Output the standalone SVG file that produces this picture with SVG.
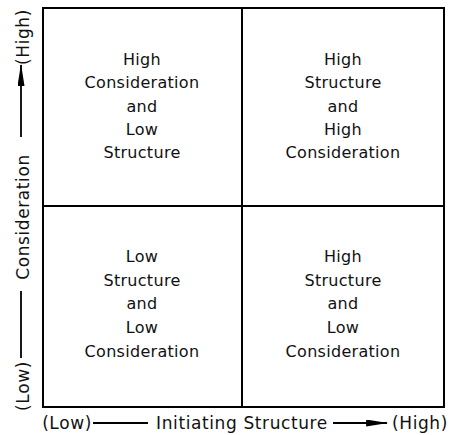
<svg xmlns="http://www.w3.org/2000/svg" width="451" height="435" viewBox="0 0 451 435">
  <style>
    .grid { fill: none; stroke: #000; stroke-width: 2; }
    .lbl { font-family: "DejaVu Sans", sans-serif; font-size: 16px; letter-spacing: 0.3px; fill: #111; text-anchor: middle; }
    .ax { font-family: "DejaVu Sans", sans-serif; font-size: 17px; letter-spacing: 0.6px; fill: #111; text-anchor: middle; }
    .axis { stroke: #000; stroke-width: 1.8; fill: none; }
  </style>
  <defs>
    <marker id="arrow" viewBox="0 0 10 10" refX="9.5" refY="5" markerWidth="22" markerHeight="7" markerUnits="userSpaceOnUse" orient="auto" preserveAspectRatio="none">
      <path d="M0,0 L10,5 L0,10 z" fill="#000"/>
    </marker>
  </defs>
  <rect x="0" y="0" width="451" height="435" fill="#fff"/>

  <!-- quadrant grid -->
  <g id="grid">
    <rect class="grid" x="43" y="8" width="401" height="399"/>
    <line class="grid" x1="242" y1="8" x2="242" y2="407"/>
    <line class="grid" x1="43" y1="206" x2="444" y2="206"/>
  </g>

  <g id="q-top-left">
    <text class="lbl" x="142" y="65">High</text>
    <text class="lbl" x="142" y="88">Consideration</text>
    <text class="lbl" x="142" y="112">and</text>
    <text class="lbl" x="142" y="135">Low</text>
    <text class="lbl" x="142" y="158">Structure</text>
  </g>
  <g id="q-top-right">
    <text class="lbl" x="343" y="65">High</text>
    <text class="lbl" x="343" y="88">Structure</text>
    <text class="lbl" x="343" y="112">and</text>
    <text class="lbl" x="343" y="135">High</text>
    <text class="lbl" x="343" y="158">Consideration</text>
  </g>
  <g id="q-bottom-left">
    <text class="lbl" x="142" y="262">Low</text>
    <text class="lbl" x="142" y="286">Structure</text>
    <text class="lbl" x="142" y="309">and</text>
    <text class="lbl" x="142" y="333">Low</text>
    <text class="lbl" x="142" y="357">Consideration</text>
  </g>
  <g id="q-bottom-right">
    <text class="lbl" x="343" y="262">High</text>
    <text class="lbl" x="343" y="286">Structure</text>
    <text class="lbl" x="343" y="309">and</text>
    <text class="lbl" x="343" y="333">Low</text>
    <text class="lbl" x="343" y="357">Consideration</text>
  </g>

  <!-- vertical axis labels -->
  <g id="y-axis">
    <text class="ax" transform="translate(29,37) rotate(-90)">(High)</text>
    <text class="ax" transform="translate(29,217) rotate(-90)">Consideration</text>
    <text class="ax" transform="translate(29,386) rotate(-90)">(Low)</text>
  </g>
  <!-- horizontal axis labels -->
  <g id="x-axis">
    <text class="ax" x="67" y="429">(Low)</text>
    <text class="ax" x="242" y="429">Initiating Structure</text>
    <text class="ax" x="420" y="429">(High)</text>
  </g>

  <g id="connectors">
    <line class="axis" x1="21" y1="137" x2="21" y2="65" marker-end="url(#arrow)"/>
    <line class="axis" x1="21" y1="291" x2="21" y2="358"/>
    <line class="axis" x1="93" y1="423" x2="148" y2="423"/>
    <line class="axis" x1="333" y1="423" x2="387" y2="423" marker-end="url(#arrow)"/>
  </g>
</svg>
